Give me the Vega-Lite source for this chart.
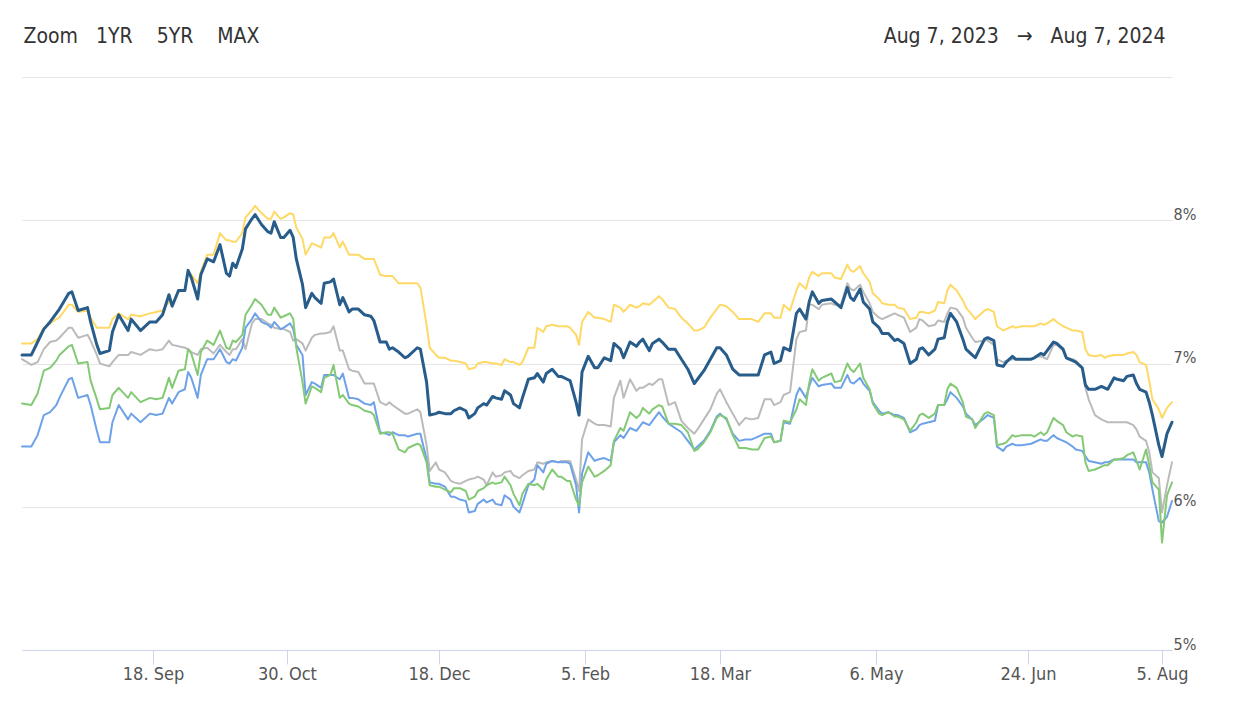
{
"$schema": "https://vega.github.io/schema/vega-lite/v6.json",
"width": 1150, "height": 573,
"autosize": {"type": "none"},
"padding": {"left": 22, "top": 77, "right": 70, "bottom": 69},
"background": "white",
"config": {"view": {"stroke": null}, "font": "DejaVu Sans Condensed, DejaVu Sans"},
"data": {"values": [
{"d":"2023-08-07","n":7.06,"y":7.14,"g":7.03,"gr":6.72,"b":6.42},
{"d":"2023-08-10","n":7.06,"y":7.14,"g":6.99,"gr":6.71,"b":6.42},
{"d":"2023-08-12","n":7.15,"y":7.17,"g":7.01,"gr":6.79,"b":6.50},
{"d":"2023-08-14","n":7.24,"y":7.25,"g":7.10,"gr":6.95,"b":6.64},
{"d":"2023-08-16","n":7.29,"y":7.28,"g":7.15,"gr":6.97,"b":6.66},
{"d":"2023-08-18","n":7.35,"y":7.31,"g":7.16,"gr":7.02,"b":6.71},
{"d":"2023-08-19","n":7.38,"y":7.32,"g":7.18,"gr":7.06,"b":6.76},
{"d":"2023-08-22","n":7.49,"y":7.41,"g":7.25,"gr":7.12,"b":6.89},
{"d":"2023-08-23","n":7.50,"y":7.41,"g":7.25,"gr":7.13,"b":6.90},
{"d":"2023-08-25","n":7.37,"y":7.36,"g":7.18,"gr":7.00,"b":6.76},
{"d":"2023-08-28","n":7.39,"y":7.37,"g":7.20,"gr":7.01,"b":6.78},
{"d":"2023-08-29","n":7.29,"y":7.32,"g":7.16,"gr":6.88,"b":6.71},
{"d":"2023-08-31","n":7.13,"y":7.25,"g":7.06,"gr":6.75,"b":6.53},
{"d":"2023-09-01","n":7.07,"y":7.25,"g":7.00,"gr":6.68,"b":6.45},
{"d":"2023-09-04","n":7.09,"y":7.25,"g":6.98,"gr":6.69,"b":6.45},
{"d":"2023-09-05","n":7.22,"y":7.31,"g":7.01,"gr":6.78,"b":6.59},
{"d":"2023-09-07","n":7.34,"y":7.35,"g":7.06,"gr":6.83,"b":6.71},
{"d":"2023-09-10","n":7.23,"y":7.31,"g":7.06,"gr":6.76,"b":6.61},
{"d":"2023-09-11","n":7.31,"y":7.34,"g":7.08,"gr":6.80,"b":6.65},
{"d":"2023-09-14","n":7.23,"y":7.33,"g":7.06,"gr":6.73,"b":6.59},
{"d":"2023-09-17","n":7.29,"y":7.35,"g":7.10,"gr":6.76,"b":6.65},
{"d":"2023-09-19","n":7.29,"y":7.36,"g":7.09,"gr":6.75,"b":6.64},
{"d":"2023-09-21","n":7.34,"y":7.37,"g":7.10,"gr":6.76,"b":6.65},
{"d":"2023-09-23","n":7.48,"y":7.43,"g":7.16,"gr":6.90,"b":6.76},
{"d":"2023-09-24","n":7.40,"y":7.42,"g":7.13,"gr":6.83,"b":6.72},
{"d":"2023-09-26","n":7.51,"y":7.50,"g":7.12,"gr":6.95,"b":6.80},
{"d":"2023-09-28","n":7.51,"y":7.51,"g":7.11,"gr":6.96,"b":6.82},
{"d":"2023-09-29","n":7.65,"y":7.64,"g":7.10,"gr":7.10,"b":6.94},
{"d":"2023-09-30","n":7.60,"y":7.62,"g":7.08,"gr":7.07,"b":6.90},
{"d":"2023-10-02","n":7.45,"y":7.56,"g":7.06,"gr":6.92,"b":6.76},
{"d":"2023-10-03","n":7.62,"y":7.64,"g":7.10,"gr":7.08,"b":6.92},
{"d":"2023-10-05","n":7.73,"y":7.76,"g":7.11,"gr":7.16,"b":7.03},
{"d":"2023-10-07","n":7.71,"y":7.76,"g":7.07,"gr":7.13,"b":7.03},
{"d":"2023-10-09","n":7.83,"y":7.91,"g":7.13,"gr":7.23,"b":7.10},
{"d":"2023-10-11","n":7.63,"y":7.86,"g":7.08,"gr":7.11,"b":7.01},
{"d":"2023-10-12","n":7.61,"y":7.86,"g":7.06,"gr":7.10,"b":7.00},
{"d":"2023-10-13","n":7.70,"y":7.85,"g":7.10,"gr":7.16,"b":7.03},
{"d":"2023-10-14","n":7.67,"y":7.85,"g":7.10,"gr":7.15,"b":7.02},
{"d":"2023-10-16","n":7.80,"y":7.91,"g":7.17,"gr":7.20,"b":7.11},
{"d":"2023-10-17","n":7.94,"y":8.02,"g":7.10,"gr":7.34,"b":7.25},
{"d":"2023-10-19","n":8.01,"y":8.07,"g":7.28,"gr":7.41,"b":7.31},
{"d":"2023-10-20","n":8.04,"y":8.10,"g":7.31,"gr":7.45,"b":7.35},
{"d":"2023-10-22","n":7.97,"y":8.05,"g":7.31,"gr":7.41,"b":7.29},
{"d":"2023-10-24","n":7.92,"y":8.01,"g":7.28,"gr":7.34,"b":7.27},
{"d":"2023-10-25","n":7.91,"y":8.01,"g":7.27,"gr":7.34,"b":7.25},
{"d":"2023-10-26","n":7.99,"y":8.06,"g":7.25,"gr":7.39,"b":7.29},
{"d":"2023-10-28","n":7.88,"y":8.01,"g":7.24,"gr":7.32,"b":7.24},
{"d":"2023-10-29","n":7.88,"y":8.02,"g":7.24,"gr":7.33,"b":7.25},
{"d":"2023-10-31","n":7.93,"y":8.05,"g":7.22,"gr":7.35,"b":7.28},
{"d":"2023-11-01","n":7.88,"y":8.04,"g":7.16,"gr":7.31,"b":7.24},
{"d":"2023-11-02","n":7.73,"y":7.95,"g":7.17,"gr":7.11,"b":7.13},
{"d":"2023-11-04","n":7.55,"y":7.87,"g":7.14,"gr":6.87,"b":7.06},
{"d":"2023-11-05","n":7.39,"y":7.76,"g":7.09,"gr":6.72,"b":6.78},
{"d":"2023-11-07","n":7.49,"y":7.84,"g":7.18,"gr":6.84,"b":6.87},
{"d":"2023-11-08","n":7.46,"y":7.83,"g":7.20,"gr":6.83,"b":6.86},
{"d":"2023-11-10","n":7.42,"y":7.81,"g":7.21,"gr":6.80,"b":6.83},
{"d":"2023-11-11","n":7.56,"y":7.88,"g":7.21,"gr":6.90,"b":6.92},
{"d":"2023-11-13","n":7.57,"y":7.88,"g":7.22,"gr":6.92,"b":6.92},
{"d":"2023-11-14","n":7.59,"y":7.91,"g":7.26,"gr":6.99,"b":6.92},
{"d":"2023-11-16","n":7.41,"y":7.81,"g":7.09,"gr":6.76,"b":6.89},
{"d":"2023-11-17","n":7.46,"y":7.85,"g":7.09,"gr":6.78,"b":6.93},
{"d":"2023-11-19","n":7.36,"y":7.76,"g":6.96,"gr":6.72,"b":6.76},
{"d":"2023-11-20","n":7.38,"y":7.76,"g":6.95,"gr":6.71,"b":6.76},
{"d":"2023-11-22","n":7.38,"y":7.76,"g":6.94,"gr":6.70,"b":6.75},
{"d":"2023-11-24","n":7.34,"y":7.73,"g":6.86,"gr":6.67,"b":6.72},
{"d":"2023-11-26","n":7.33,"y":7.73,"g":6.86,"gr":6.66,"b":6.71},
{"d":"2023-11-27","n":7.30,"y":7.73,"g":6.86,"gr":6.64,"b":6.73},
{"d":"2023-11-29","n":7.15,"y":7.62,"g":6.73,"gr":6.51,"b":6.52},
{"d":"2023-12-01","n":7.15,"y":7.61,"g":6.71,"gr":6.52,"b":6.51},
{"d":"2023-12-02","n":7.10,"y":7.61,"g":6.73,"gr":6.52,"b":6.50},
{"d":"2023-12-03","n":7.11,"y":7.61,"g":6.71,"gr":6.51,"b":6.52},
{"d":"2023-12-05","n":7.08,"y":7.56,"g":6.68,"gr":6.40,"b":6.50},
{"d":"2023-12-07","n":7.04,"y":7.56,"g":6.65,"gr":6.38,"b":6.50},
{"d":"2023-12-08","n":7.05,"y":7.56,"g":6.65,"gr":6.41,"b":6.49},
{"d":"2023-12-11","n":7.11,"y":7.56,"g":6.68,"gr":6.44,"b":6.51},
{"d":"2023-12-12","n":7.10,"y":7.53,"g":6.66,"gr":6.43,"b":6.51},
{"d":"2023-12-14","n":6.87,"y":7.27,"g":6.43,"gr":6.31,"b":6.33},
{"d":"2023-12-15","n":6.64,"y":7.11,"g":6.25,"gr":6.15,"b":6.17},
{"d":"2023-12-17","n":6.65,"y":7.06,"g":6.31,"gr":6.14,"b":6.16},
{"d":"2023-12-18","n":6.66,"y":7.04,"g":6.26,"gr":6.14,"b":6.16},
{"d":"2023-12-20","n":6.65,"y":7.04,"g":6.24,"gr":6.12,"b":6.14},
{"d":"2023-12-22","n":6.65,"y":7.02,"g":6.18,"gr":6.10,"b":6.07},
{"d":"2023-12-23","n":6.67,"y":7.02,"g":6.17,"gr":6.13,"b":6.07},
{"d":"2023-12-25","n":6.69,"y":7.01,"g":6.16,"gr":6.13,"b":6.05},
{"d":"2023-12-27","n":6.67,"y":7.00,"g":6.18,"gr":6.11,"b":6.04},
{"d":"2023-12-28","n":6.62,"y":6.96,"g":6.19,"gr":6.05,"b":5.96},
{"d":"2023-12-30","n":6.65,"y":6.97,"g":6.20,"gr":6.07,"b":5.97},
{"d":"2023-12-31","n":6.69,"y":7.00,"g":6.21,"gr":6.11,"b":6.02},
{"d":"2024-01-02","n":6.72,"y":7.01,"g":6.19,"gr":6.13,"b":6.05},
{"d":"2024-01-03","n":6.71,"y":7.01,"g":6.15,"gr":6.15,"b":6.03},
{"d":"2024-01-05","n":6.77,"y":7.00,"g":6.24,"gr":6.17,"b":6.05},
{"d":"2024-01-06","n":6.76,"y":7.00,"g":6.21,"gr":6.16,"b":6.02},
{"d":"2024-01-08","n":6.75,"y":6.99,"g":6.22,"gr":6.17,"b":6.01},
{"d":"2024-01-09","n":6.81,"y":7.03,"g":6.24,"gr":6.21,"b":6.08},
{"d":"2024-01-11","n":6.78,"y":7.01,"g":6.25,"gr":6.15,"b":6.05},
{"d":"2024-01-12","n":6.72,"y":7.01,"g":6.22,"gr":6.09,"b":6.00},
{"d":"2024-01-14","n":6.69,"y":6.99,"g":6.20,"gr":6.01,"b":5.96},
{"d":"2024-01-15","n":6.76,"y":7.01,"g":6.22,"gr":6.09,"b":6.02},
{"d":"2024-01-17","n":6.89,"y":7.11,"g":6.25,"gr":6.16,"b":6.15},
{"d":"2024-01-19","n":6.90,"y":7.11,"g":6.26,"gr":6.15,"b":6.19},
{"d":"2024-01-20","n":6.93,"y":7.25,"g":6.31,"gr":6.16,"b":6.29},
{"d":"2024-01-22","n":6.87,"y":7.22,"g":6.30,"gr":6.12,"b":6.24},
{"d":"2024-01-23","n":6.93,"y":7.26,"g":6.31,"gr":6.19,"b":6.30},
{"d":"2024-01-25","n":6.96,"y":7.27,"g":6.32,"gr":6.26,"b":6.32},
{"d":"2024-01-27","n":6.91,"y":7.26,"g":6.31,"gr":6.21,"b":6.31},
{"d":"2024-01-28","n":6.91,"y":7.26,"g":6.32,"gr":6.21,"b":6.31},
{"d":"2024-01-30","n":6.89,"y":7.26,"g":6.32,"gr":6.18,"b":6.31},
{"d":"2024-01-31","n":6.88,"y":7.25,"g":6.32,"gr":6.18,"b":6.30},
{"d":"2024-02-02","n":6.73,"y":7.20,"g":6.19,"gr":6.05,"b":6.15},
{"d":"2024-02-03","n":6.64,"y":7.13,"g":6.11,"gr":6.01,"b":5.96},
{"d":"2024-02-04","n":6.94,"y":7.29,"g":6.47,"gr":6.17,"b":6.23},
{"d":"2024-02-06","n":7.05,"y":7.36,"g":6.61,"gr":6.28,"b":6.38},
{"d":"2024-02-08","n":6.97,"y":7.32,"g":6.58,"gr":6.21,"b":6.32},
{"d":"2024-02-09","n":6.97,"y":7.32,"g":6.57,"gr":6.22,"b":6.33},
{"d":"2024-02-11","n":7.04,"y":7.31,"g":6.57,"gr":6.25,"b":6.34},
{"d":"2024-02-13","n":7.02,"y":7.29,"g":6.56,"gr":6.29,"b":6.32},
{"d":"2024-02-14","n":7.14,"y":7.41,"g":6.76,"gr":6.46,"b":6.45},
{"d":"2024-02-16","n":7.10,"y":7.39,"g":6.88,"gr":6.55,"b":6.50},
{"d":"2024-02-17","n":7.04,"y":7.36,"g":6.76,"gr":6.53,"b":6.48},
{"d":"2024-02-19","n":7.15,"y":7.41,"g":6.89,"gr":6.66,"b":6.55},
{"d":"2024-02-21","n":7.12,"y":7.39,"g":6.81,"gr":6.62,"b":6.53},
{"d":"2024-02-22","n":7.15,"y":7.40,"g":6.83,"gr":6.64,"b":6.56},
{"d":"2024-02-23","n":7.17,"y":7.42,"g":6.83,"gr":6.69,"b":6.59},
{"d":"2024-02-25","n":7.09,"y":7.41,"g":6.86,"gr":6.65,"b":6.57},
{"d":"2024-02-26","n":7.14,"y":7.43,"g":6.85,"gr":6.68,"b":6.60},
{"d":"2024-02-28","n":7.17,"y":7.47,"g":6.89,"gr":6.71,"b":6.66},
{"d":"2024-02-29","n":7.15,"y":7.45,"g":6.89,"gr":6.70,"b":6.63},
{"d":"2024-03-02","n":7.10,"y":7.39,"g":6.71,"gr":6.58,"b":6.58},
{"d":"2024-03-04","n":7.10,"y":7.38,"g":6.73,"gr":6.58,"b":6.55},
{"d":"2024-03-06","n":7.03,"y":7.32,"g":6.60,"gr":6.57,"b":6.52},
{"d":"2024-03-08","n":6.96,"y":7.28,"g":6.55,"gr":6.52,"b":6.46},
{"d":"2024-03-10","n":6.86,"y":7.23,"g":6.51,"gr":6.39,"b":6.40},
{"d":"2024-03-11","n":6.89,"y":7.23,"g":6.54,"gr":6.40,"b":6.42},
{"d":"2024-03-13","n":6.95,"y":7.25,"g":6.61,"gr":6.45,"b":6.46},
{"d":"2024-03-15","n":7.03,"y":7.32,"g":6.68,"gr":6.52,"b":6.53},
{"d":"2024-03-17","n":7.11,"y":7.38,"g":6.79,"gr":6.62,"b":6.63},
{"d":"2024-03-18","n":7.11,"y":7.41,"g":6.82,"gr":6.64,"b":6.65},
{"d":"2024-03-20","n":7.06,"y":7.40,"g":6.73,"gr":6.62,"b":6.61},
{"d":"2024-03-22","n":6.96,"y":7.36,"g":6.65,"gr":6.50,"b":6.51},
{"d":"2024-03-24","n":6.92,"y":7.31,"g":6.57,"gr":6.41,"b":6.46},
{"d":"2024-03-26","n":6.92,"y":7.31,"g":6.62,"gr":6.41,"b":6.47},
{"d":"2024-03-28","n":6.92,"y":7.31,"g":6.61,"gr":6.40,"b":6.47},
{"d":"2024-03-30","n":6.92,"y":7.29,"g":6.62,"gr":6.40,"b":6.49},
{"d":"2024-04-01","n":7.06,"y":7.35,"g":6.75,"gr":6.48,"b":6.51},
{"d":"2024-04-03","n":7.08,"y":7.35,"g":6.75,"gr":6.49,"b":6.51},
{"d":"2024-04-04","n":7.00,"y":7.32,"g":6.71,"gr":6.45,"b":6.45},
{"d":"2024-04-06","n":7.02,"y":7.32,"g":6.73,"gr":6.46,"b":6.46},
{"d":"2024-04-07","n":7.11,"y":7.41,"g":6.78,"gr":6.60,"b":6.59},
{"d":"2024-04-09","n":7.09,"y":7.37,"g":6.80,"gr":6.59,"b":6.58},
{"d":"2024-04-11","n":7.35,"y":7.51,"g":7.17,"gr":6.68,"b":6.78},
{"d":"2024-04-12","n":7.38,"y":7.56,"g":7.22,"gr":6.75,"b":6.83},
{"d":"2024-04-14","n":7.31,"y":7.52,"g":7.23,"gr":6.71,"b":6.76},
{"d":"2024-04-15","n":7.43,"y":7.60,"g":7.41,"gr":6.86,"b":6.84},
{"d":"2024-04-16","n":7.50,"y":7.64,"g":7.41,"gr":6.96,"b":6.90},
{"d":"2024-04-18","n":7.42,"y":7.61,"g":7.38,"gr":6.88,"b":6.84},
{"d":"2024-04-19","n":7.44,"y":7.63,"g":7.41,"gr":6.90,"b":6.85},
{"d":"2024-04-22","n":7.45,"y":7.63,"g":7.42,"gr":6.93,"b":6.86},
{"d":"2024-04-23","n":7.43,"y":7.60,"g":7.41,"gr":6.87,"b":6.83},
{"d":"2024-04-25","n":7.39,"y":7.59,"g":7.41,"gr":6.88,"b":6.83},
{"d":"2024-04-27","n":7.53,"y":7.69,"g":7.56,"gr":7.00,"b":6.92},
{"d":"2024-04-28","n":7.46,"y":7.65,"g":7.52,"gr":6.96,"b":6.87},
{"d":"2024-04-29","n":7.44,"y":7.64,"g":7.51,"gr":6.94,"b":6.86},
{"d":"2024-05-01","n":7.52,"y":7.68,"g":7.55,"gr":7.00,"b":6.90},
{"d":"2024-05-02","n":7.43,"y":7.63,"g":7.50,"gr":6.90,"b":6.86},
{"d":"2024-05-04","n":7.38,"y":7.57,"g":7.42,"gr":6.82,"b":6.81},
{"d":"2024-05-05","n":7.29,"y":7.49,"g":7.36,"gr":6.72,"b":6.73},
{"d":"2024-05-07","n":7.25,"y":7.45,"g":7.32,"gr":6.65,"b":6.67},
{"d":"2024-05-08","n":7.21,"y":7.42,"g":7.31,"gr":6.64,"b":6.65},
{"d":"2024-05-10","n":7.21,"y":7.41,"g":7.33,"gr":6.66,"b":6.66},
{"d":"2024-05-12","n":7.16,"y":7.41,"g":7.35,"gr":6.63,"b":6.64},
{"d":"2024-05-13","n":7.17,"y":7.39,"g":7.34,"gr":6.63,"b":6.64},
{"d":"2024-05-15","n":7.14,"y":7.38,"g":7.32,"gr":6.61,"b":6.62},
{"d":"2024-05-17","n":7.00,"y":7.31,"g":7.22,"gr":6.53,"b":6.52},
{"d":"2024-05-19","n":7.03,"y":7.32,"g":7.25,"gr":6.59,"b":6.54},
{"d":"2024-05-20","n":7.10,"y":7.36,"g":7.31,"gr":6.64,"b":6.57},
{"d":"2024-05-21","n":7.11,"y":7.36,"g":7.30,"gr":6.65,"b":6.58},
{"d":"2024-05-23","n":7.06,"y":7.35,"g":7.26,"gr":6.62,"b":6.59},
{"d":"2024-05-25","n":7.10,"y":7.37,"g":7.27,"gr":6.65,"b":6.60},
{"d":"2024-05-26","n":7.17,"y":7.43,"g":7.30,"gr":6.71,"b":6.71},
{"d":"2024-05-28","n":7.18,"y":7.42,"g":7.29,"gr":6.71,"b":6.71},
{"d":"2024-05-29","n":7.29,"y":7.51,"g":7.35,"gr":6.82,"b":6.75},
{"d":"2024-05-30","n":7.35,"y":7.55,"g":7.39,"gr":6.86,"b":6.80},
{"d":"2024-06-01","n":7.29,"y":7.51,"g":7.38,"gr":6.83,"b":6.76},
{"d":"2024-06-03","n":7.17,"y":7.44,"g":7.32,"gr":6.73,"b":6.70},
{"d":"2024-06-04","n":7.10,"y":7.39,"g":7.25,"gr":6.63,"b":6.65},
{"d":"2024-06-06","n":7.06,"y":7.34,"g":7.18,"gr":6.61,"b":6.61},
{"d":"2024-06-07","n":7.04,"y":7.31,"g":7.15,"gr":6.55,"b":6.57},
{"d":"2024-06-10","n":7.17,"y":7.37,"g":7.16,"gr":6.65,"b":6.62},
{"d":"2024-06-11","n":7.18,"y":7.38,"g":7.16,"gr":6.66,"b":6.64},
{"d":"2024-06-13","n":7.16,"y":7.36,"g":7.13,"gr":6.64,"b":6.62},
{"d":"2024-06-14","n":6.99,"y":7.26,"g":7.03,"gr":6.43,"b":6.42},
{"d":"2024-06-16","n":6.98,"y":7.23,"g":7.01,"gr":6.44,"b":6.39},
{"d":"2024-06-17","n":7.01,"y":7.24,"g":7.02,"gr":6.45,"b":6.42},
{"d":"2024-06-19","n":7.05,"y":7.26,"g":7.03,"gr":6.50,"b":6.44},
{"d":"2024-06-20","n":7.03,"y":7.25,"g":7.03,"gr":6.49,"b":6.43},
{"d":"2024-06-22","n":7.03,"y":7.26,"g":7.03,"gr":6.50,"b":6.43},
{"d":"2024-06-25","n":7.03,"y":7.26,"g":7.03,"gr":6.50,"b":6.44},
{"d":"2024-06-26","n":7.04,"y":7.26,"g":7.04,"gr":6.49,"b":6.45},
{"d":"2024-06-28","n":7.07,"y":7.28,"g":7.05,"gr":6.52,"b":6.47},
{"d":"2024-06-29","n":7.06,"y":7.27,"g":7.04,"gr":6.50,"b":6.46},
{"d":"2024-06-30","n":7.09,"y":7.28,"g":7.03,"gr":6.52,"b":6.46},
{"d":"2024-07-02","n":7.15,"y":7.31,"g":7.13,"gr":6.62,"b":6.50},
{"d":"2024-07-03","n":7.14,"y":7.29,"g":7.13,"gr":6.60,"b":6.48},
{"d":"2024-07-05","n":7.10,"y":7.26,"g":7.09,"gr":6.57,"b":6.46},
{"d":"2024-07-06","n":7.04,"y":7.25,"g":7.04,"gr":6.52,"b":6.45},
{"d":"2024-07-08","n":7.02,"y":7.23,"g":7.03,"gr":6.49,"b":6.42},
{"d":"2024-07-09","n":7.01,"y":7.23,"g":7.02,"gr":6.50,"b":6.40},
{"d":"2024-07-11","n":6.97,"y":7.22,"g":6.97,"gr":6.49,"b":6.39},
{"d":"2024-07-12","n":6.85,"y":7.10,"g":6.83,"gr":6.31,"b":6.35},
{"d":"2024-07-13","n":6.82,"y":7.06,"g":6.75,"gr":6.25,"b":6.32},
{"d":"2024-07-15","n":6.82,"y":7.05,"g":6.64,"gr":6.26,"b":6.31},
{"d":"2024-07-17","n":6.84,"y":7.06,"g":6.61,"gr":6.28,"b":6.30},
{"d":"2024-07-18","n":6.83,"y":7.04,"g":6.60,"gr":6.29,"b":6.31},
{"d":"2024-07-19","n":6.82,"y":7.05,"g":6.59,"gr":6.29,"b":6.31},
{"d":"2024-07-21","n":6.90,"y":7.06,"g":6.59,"gr":6.33,"b":6.33},
{"d":"2024-07-22","n":6.89,"y":7.06,"g":6.59,"gr":6.33,"b":6.33},
{"d":"2024-07-24","n":6.88,"y":7.06,"g":6.59,"gr":6.34,"b":6.33},
{"d":"2024-07-25","n":6.91,"y":7.07,"g":6.59,"gr":6.36,"b":6.33},
{"d":"2024-07-27","n":6.92,"y":7.08,"g":6.57,"gr":6.38,"b":6.33},
{"d":"2024-07-28","n":6.86,"y":7.06,"g":6.54,"gr":6.32,"b":6.31},
{"d":"2024-07-29","n":6.82,"y":7.01,"g":6.49,"gr":6.26,"b":6.31},
{"d":"2024-07-31","n":6.80,"y":6.99,"g":6.46,"gr":6.40,"b":6.31},
{"d":"2024-08-01","n":6.73,"y":6.88,"g":6.38,"gr":6.29,"b":6.24},
{"d":"2024-08-02","n":6.64,"y":6.75,"g":6.24,"gr":6.17,"b":6.12},
{"d":"2024-08-04","n":6.43,"y":6.68,"g":6.20,"gr":6.12,"b":5.90},
{"d":"2024-08-05","n":6.35,"y":6.62,"g":5.96,"gr":5.75,"b":5.89},
{"d":"2024-08-06","n":6.51,"y":6.69,"g":6.15,"gr":6.08,"b":5.93},
{"d":"2024-08-07","n":6.59,"y":6.73,"g":6.31,"gr":6.17,"b":6.04}
]},
"transform": [{"fold": ["y", "g", "b", "gr", "n"], "as": ["s", "v"]}],
"mark": {"type": "line", "strokeJoin": "round", "strokeCap": "round"},
"encoding": {
  "x": {"field": "d", "type": "temporal",
    "scale": {"type": "utc", "nice": false,
      "domain": [1691366400000, 1722988800000],
      "domainRaw": {"expr": "[1691366400000, 1694995200000, 1698624000000, 1702857600000, 1707091200000, 1710720000000, 1714953600000, 1719187200000, 1722816000000, 1722988800000]"},
      "range": [0, 131, 265, 417, 563, 698, 854, 1006, 1140, 1150]},
    "axis": {
      "values": [1694995200000, 1698624000000, 1702857600000, 1707091200000, 1710720000000, 1714953600000, 1719187200000, 1722816000000],
      "format": "%-d. %b",
      "title": "Zoom\u00a0\u00a0\u00a01YR\u00a0\u00a0\u00a0\u00a05YR\u00a0\u00a0\u00a0\u00a0MAX",
      "titleX": 1, "titleY": -608, "titleAlign": "left", "titleAnchor": "start", "titleBaseline": "alphabetic", "titleAngle": 0,
      "titleFontSize": 21, "titleFontWeight": "normal", "titleColor": "#333333", "titleFont": "DejaVu Sans Condensed, DejaVu Sans",
      "grid": false,
      "domainColor": "#ccd6eb", "tickColor": "#ccd6eb", "tickSize": 14,
      "labelFontSize": 18, "labelColor": "#555555", "labelFont": "DejaVu Sans Condensed, DejaVu Sans",
      "labelPadding": 1, "labelFlush": false, "labelOverlap": false}},
  "y": {"field": "v", "type": "quantitative",
    "scale": {"domain": [5, 9], "nice": false, "zero": false},
    "axis": {"orient": "right", "values": [5, 6, 7, 8, 9],
      "labelExpr": "datum.value == 9 ? '' : datum.value + '%'",
      "grid": true, "gridColor": "#e6e6e6", "gridWidth": 1,
      "ticks": false, "domain": false,
      "labelFontSize": 16, "labelColor": "#555555", "labelFont": "DejaVu Sans Condensed, DejaVu Sans",
      "labelAlign": "left", "labelBaseline": "alphabetic", "labelOffset": -1, "labelPadding": 1,
      "title": "Aug 7, 2023\u00a0\u00a0\u00a0→\u00a0\u00a0\u00a0Aug 7, 2024", "titleAngle": 0, "titleAlign": "right", "titleBaseline": "alphabetic",
      "titleX": -7, "titleY": -35, "titleFontSize": 21, "titleFontWeight": "normal", "titleColor": "#333333",
      "titleFont": "DejaVu Sans Condensed, DejaVu Sans"}},
  "color": {"field": "s", "type": "nominal", "legend": null,
    "scale": {"domain": ["y", "g", "b", "gr", "n"], "range": ["#ffd966", "#bbbbbb", "#6ea2e8", "#84c975", "#285d8b"]}},
  "strokeWidth": {"condition": {"test": "datum.s === 'n'", "value": 3}, "value": 2}
}
}
